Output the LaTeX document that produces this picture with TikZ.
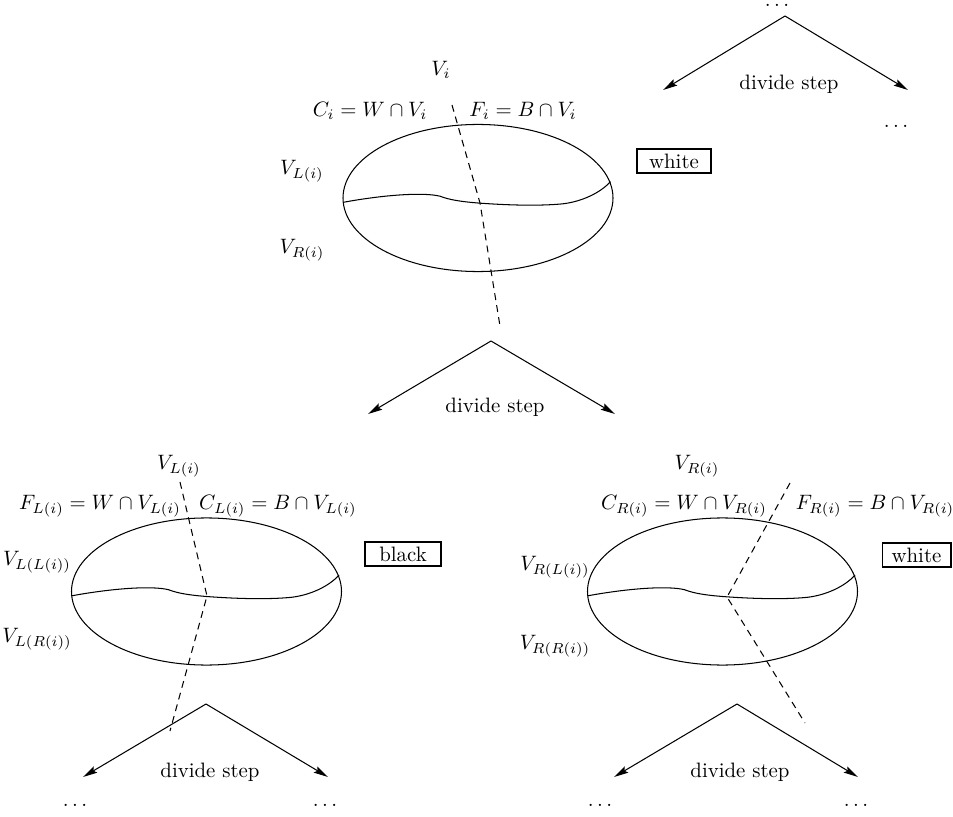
\documentclass[tikz,border=0pt]{standalone}
\usetikzlibrary{arrows.meta}
\newcommand{\splitcurve}{%
  (-134.7,4.3) .. controls (-95,-3) and (-55,-6) .. (-38,-1.8)
  .. controls (-32,0.3) and (-25,3) .. (0,5)
  .. controls (40,8) and (68,7.5) .. (85,5.8)
  .. controls (104,3.5) and (122,-5) .. (132.5,-16.3)}
\begin{document}
\begin{tikzpicture}[x=0.48pt,y=-0.48pt,
  every path/.style={line width=0.5pt},
  lbl/.style={inner sep=0pt},
  cutline/.style={dash pattern=on 3.3pt off 2.5pt},
  divarrow/.style={-{Stealth[length=7pt,width=3.4pt,inset=1.2pt]}},
  colbox/.style={draw, line width=0.6pt, minimum width=35.5pt, minimum height=11.5pt, inner sep=0pt},
  cell/.style={x radius=64.8pt, y radius=35.3pt}]
\useasboundingbox (0,0) rectangle (953,817);

% ---------- top right fragment ----------
\node[lbl] (dtop) at (777,5) {$\dots$};
\coordinate (a0) at (785,16);
\coordinate (a0l) at (663,90);
\coordinate (a0r) at (908,90);
\draw[divarrow] (a0) -- (a0l);
\draw[divarrow] (a0) -- (a0r);
\node[lbl] (s0) at (789,84) {divide step};
\node[lbl] (dtr) at (896,126) {$\dots$};

% ---------- top cell ----------
\coordinate (e1) at (478,198);
\draw (e1) ellipse [cell];
\begin{scope}[shift={(478,198)}]
  \draw \splitcurve;
\end{scope}
\coordinate (c1a) at (452,105);
\coordinate (c1b) at (480,203);
\coordinate (c1c) at (500,326);
\draw[cutline] (c1a) -- (c1b) -- (c1c);
\node[lbl] (vi) at (441,70) {$V_i$};
\node[lbl] (ci) at (370,111) {$C_i = W \cap V_i$};
\node[lbl] (fi) at (523,111) {$F_i = B \cap V_i$};
\node[lbl] (vli) at (302,171) {$V_{L(i)}$};
\node[lbl] (vri) at (302,250) {$V_{R(i)}$};
\node[colbox] (w1) at (674,161) {white};

\coordinate (a1) at (491,341);
\coordinate (a1l) at (368,414);
\coordinate (a1r) at (615,414);
\draw[divarrow] (a1) -- (a1l);
\draw[divarrow] (a1) -- (a1r);
\node[lbl] (s1) at (495,407) {divide step};

% ---------- bottom left cell ----------
\coordinate (e2) at (206.5,591.5);
\draw (e2) ellipse [cell];
\begin{scope}[shift={(206.5,591.5)}]
  \draw \splitcurve;
\end{scope}
\coordinate (c2a) at (180,482);
\coordinate (c2b) at (207,596);
\coordinate (c2c) at (170,731);
\draw[cutline] (c2a) -- (c2b) -- (c2c);
\node[lbl] (vl) at (179,466) {$V_{L(i)}$};
\node[lbl] (fl) at (100,506) {$F_{L(i)} = W \cap V_{L(i)}$};
\node[lbl] (cl) at (278,506) {$C_{L(i)} = B \cap V_{L(i)}$};
\node[lbl] (vll) at (37,562) {$V_{L(L(i))}$};
\node[lbl] (vlr) at (37,639) {$V_{L(R(i))}$};
\node[colbox, minimum width=36.5pt] (b2) at (403,554) {black};

\coordinate (a2) at (206,704);
\coordinate (a2l) at (83,777);
\coordinate (a2r) at (328,777);
\draw[divarrow] (a2) -- (a2l);
\draw[divarrow] (a2) -- (a2r);
\node[lbl] (s2) at (210,772) {divide step};
\node[lbl] (d2l) at (75,805) {$\dots$};
\node[lbl] (d2r) at (325,805) {$\dots$};

% ---------- bottom right cell ----------
\coordinate (e3) at (722.5,591.5);
\draw (e3) ellipse [cell];
\begin{scope}[shift={(722.5,591.5)}]
  \draw \splitcurve;
\end{scope}
\coordinate (c3a) at (790,483);
\coordinate (c3b) at (727,597);
\coordinate (c3c) at (805,723);
\draw[cutline] (c3a) -- (c3b) -- (c3c);
\node[lbl] (vr) at (697,466) {$V_{R(i)}$};
\node[lbl] (cr) at (684,506) {$C_{R(i)} = W \cap V_{R(i)}$};
\node[lbl] (fr) at (875,506) {$F_{R(i)} = B \cap V_{R(i)}$};
\node[lbl] (vrl) at (555,567) {$V_{R(L(i))}$};
\node[lbl] (vrr) at (555,646) {$V_{R(R(i))}$};
\node[colbox, minimum width=33pt] (w3) at (916.5,555) {white};

\coordinate (a3) at (737,704);
\coordinate (a3l) at (614,777);
\coordinate (a3r) at (858,777);
\draw[divarrow] (a3) -- (a3l);
\draw[divarrow] (a3) -- (a3r);
\node[lbl] (s3) at (740,772) {divide step};
\node[lbl] (d3l) at (600,805) {$\dots$};
\node[lbl] (d3r) at (856,805) {$\dots$};
\end{tikzpicture}
\end{document}
